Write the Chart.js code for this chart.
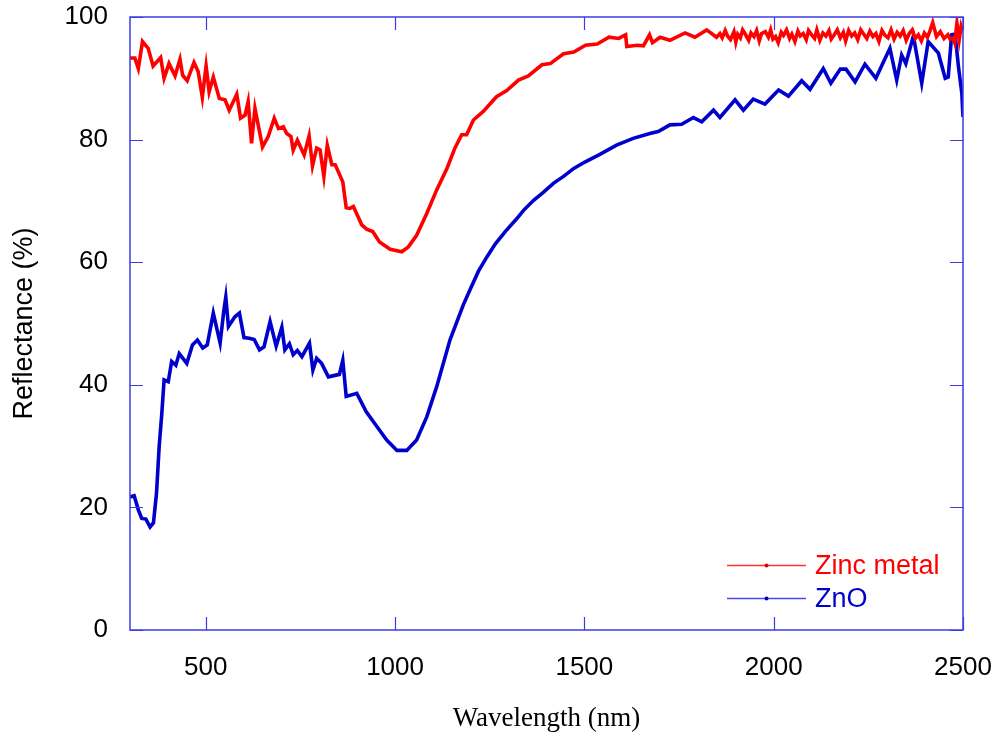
<!DOCTYPE html>
<html><head><meta charset="utf-8">
<script src="https://cdn.jsdelivr.net/npm/chart.js@4.4.1/dist/chart.umd.min.js"></script>
<style>html,body{margin:0;padding:0;background:#fff}#wrap{width:999px;height:735px}</style>
</head><body><div id="wrap"><canvas id="c" width="999" height="735"></canvas></div>
<script>
const xTicks = [500, 1000, 1500, 2000, 2500];
const yTicks = [0, 20, 40, 60, 80, 100];
const seriesNames = ['Zinc metal', 'ZnO'];

const zincWl = [300,313,322,333,348,361,381,390,403,419,432,439,451,469,480,491,501,509,520,536,551,562,582,592,604,612,621,630,650,665,681,692,705,714,725,731,742,760,773,782,793,802,812,821,833,842,862,871,881,890,912,925,941,959,987,1018,1035,1057,1084,1110,1137,1158,1176,1189,1207,1233,1268,1295,1326,1352,1388,1410,1445,1472,1503,1534,1565,1591,1609,1612,1640,1656,1672,1680,1700,1726,1766,1792,1823,1849,1858,1864,1872,1878,1886,1895,1900,1905,1912,1918,1926,1934,1940,1948,1955,1962,1968,1978,1986,1992,1998,2005,2012,2020,2026,2034,2042,2048,2056,2064,2070,2078,2086,2092,2100,2108,2114,2122,2130,2138,2146,2152,2160,2168,2176,2184,2190,2198,2206,2214,2222,2230,2238,2246,2254,2262,2270,2278,2286,2294,2302,2310,2318,2326,2334,2342,2350,2358,2366,2374,2382,2390,2398,2406,2412,2420,2430,2440,2450,2460,2466,2473,2478,2484,2490,2495,2499];
const zincR = [93.3,93.3,91.6,96.0,94.9,92.0,93.4,90.0,92.4,90.4,93.1,90.5,89.6,92.6,91.1,86.9,92.0,87.8,90.2,86.7,86.5,84.8,87.4,83.5,84.0,86.2,79.4,85.1,78.8,80.5,83.5,81.8,82.1,81.0,80.5,78.3,79.9,77.5,80.6,75.7,78.6,78.3,74.0,79.1,75.9,75.9,73.1,68.9,68.8,69.1,66.1,65.4,65.0,63.3,62.1,61.7,62.5,64.4,68.0,71.8,75.3,78.6,80.8,80.8,83.2,84.6,87.0,88.0,89.7,90.4,92.2,92.4,94.0,94.3,95.4,95.6,96.7,96.5,97.1,95.2,95.4,95.3,97.1,95.8,96.7,96.2,97.4,96.7,97.9,96.7,97.3,96.6,97.8,96.9,96.3,97.6,95.9,97.2,96.6,97.9,97.1,96.2,97.4,96.8,97.8,96.1,97.3,97.6,96.7,97.9,96.4,96.8,95.8,97.5,97.0,97.9,96.5,97.2,96.0,97.7,96.9,97.3,96.3,97.8,97.1,96.5,97.9,96.2,97.4,96.9,97.8,96.4,97.1,97.9,96.6,97.5,96.1,97.8,96.9,97.4,96.3,97.9,97.2,96.5,97.7,96.8,97.3,96.0,97.8,97.0,96.6,97.9,96.4,97.5,96.9,97.8,96.2,97.3,97.9,96.5,97.1,96.1,97.4,96.7,97.6,99.1,96.8,97.6,96.5,97.1,96.4,96.6,95.8,99.0,96.3,98.4,97.5,96.5,94.5];

const znoWl = [300,311,322,331,342,353,362,370,377,384,390,401,410,421,430,450,465,478,492,504,520,538,548,553,560,577,589,601,615,628,642,654,670,686,701,709,721,731,742,754,774,783,793,806,824,853,862,871,899,924,952,978,1005,1031,1057,1084,1110,1145,1180,1198,1220,1243,1265,1291,1320,1340,1366,1390,1419,1445,1472,1500,1541,1585,1629,1673,1695,1726,1757,1788,1810,1841,1858,1898,1920,1946,1977,2013,2039,2074,2096,2131,2151,2176,2191,2215,2241,2270,2288,2307,2325,2338,2349,2369,2391,2408,2435,2453,2461,2470,2479,2488,2497,2500];
const znoR = [21.7,21.9,19.6,18.2,18.1,16.8,17.5,22.3,29.9,35.3,40.8,40.5,43.8,43.2,45.1,43.5,46.5,47.3,46.0,46.5,51.7,46.8,52.2,54.3,49.5,51.1,51.7,47.7,47.6,47.4,45.7,46.2,50.3,46.3,49.4,45.7,46.7,44.9,45.6,44.6,46.8,42.4,44.3,43.5,41.3,41.7,44.0,38.1,38.6,35.6,33.2,31.0,29.3,29.3,31.0,34.8,39.7,47.3,53.0,55.5,58.5,60.9,63.0,65.0,67.0,68.5,70.1,71.3,72.9,74.0,75.3,76.3,77.6,79.1,80.2,81.0,81.3,82.4,82.5,83.6,82.9,84.8,83.6,86.5,84.8,86.6,85.8,88.1,87.1,89.6,88.2,91.6,89.2,91.5,91.5,89.4,92.3,90.0,92.4,94.9,89.7,93.8,92.4,96.9,89.2,96.0,94.1,90.0,90.2,97.1,97.2,91.9,87.5,83.7];

const AXIS_BLUE = '#3c3ce6';
const SANS = "'Liberation Sans', Arial, sans-serif";
const SERIF = "'Liberation Serif', 'Times New Roman', serif";

function pts(xs, ys){ return xs.map((x,i)=>({x:x, y:ys[i]})); }
function noPad(s){ s.paddingTop = 0; s.paddingBottom = 0; s.paddingLeft = 0; s.paddingRight = 0; }

const framePlugin = {
  id: 'frame',
  afterDatasetsDraw(chart){
    const {ctx, chartArea:a, scales:{x, y}} = chart;
    ctx.save();
    ctx.strokeStyle = AXIS_BLUE;
    ctx.lineWidth = 1.5;
    ctx.strokeRect(a.left, a.top, a.right - a.left, a.bottom - a.top);
    const L = 13;
    ctx.beginPath();
    xTicks.forEach(v=>{
      const px = Math.round(x.getPixelForValue(v)) + 0.5;
      ctx.moveTo(px, a.bottom); ctx.lineTo(px, a.bottom - L);
      ctx.moveTo(px, a.top); ctx.lineTo(px, a.top + L);
    });
    yTicks.forEach(v=>{
      const py = Math.round(y.getPixelForValue(v)) + 0.5;
      ctx.moveTo(a.left, py); ctx.lineTo(a.left + L, py);
      ctx.moveTo(a.right, py); ctx.lineTo(a.right - L, py);
    });
    ctx.lineWidth = 1.2;
    ctx.stroke();
    ctx.restore();
  },
  afterDraw(chart){
    const {ctx} = chart;
    const items = [
      {name: seriesNames[0], line:'#ff3030', dot:'#e00000', text:'#ff0000', y:565},
      {name: seriesNames[1], line:'#4a4ae8', dot:'#0000b0', text:'#0000cc', y:598}
    ];
    ctx.save();
    items.forEach(it=>{
      ctx.strokeStyle = it.line; ctx.lineWidth = 1.3;
      ctx.beginPath(); ctx.moveTo(727, it.y + 0.5); ctx.lineTo(806, it.y + 0.5); ctx.stroke();
      ctx.fillStyle = it.dot; ctx.beginPath(); ctx.arc(766.5, it.y + 0.5, 2, 0, Math.PI*2); ctx.fill();
      ctx.fillStyle = it.text; ctx.font = "27px " + SANS; ctx.textBaseline = 'middle'; ctx.textAlign = 'left';
      ctx.fillText(it.name, 815, it.y + 2);
    });
    ctx.restore();
  }
};

new Chart(document.getElementById('c'), {
  type: 'line',
  data: {
    datasets: [
      {label: seriesNames[0], data: pts(zincWl, zincR), borderColor:'#ff0000', backgroundColor:'#ff0000', borderWidth:3.6, pointRadius:0, tension:0},
      {label: seriesNames[1], data: pts(znoWl, znoR), borderColor:'#0000cc', backgroundColor:'#0000cc', borderWidth:3.6, pointRadius:0, tension:0}
    ]
  },
  options: {
    responsive: false,
    animation: false,
    devicePixelRatio: 1,
    layout: {padding: {left:0, right:36, top:17, bottom:0}},
    plugins: {legend:{display:false}, tooltip:{enabled:false}},
    scales: {
      x: {
        type:'linear', min:300, max:2500,
        afterBuildTicks(s){ s.ticks = xTicks.map(v=>({value:v})); },
        afterFit(s){ s.height = 105; noPad(s); },
        grid:{display:false, drawTicks:false},
        border:{display:false},
        ticks:{font:{family:SANS, size:26}, color:'#000', padding:22, maxRotation:0, autoSkip:false, callback:v=>String(v)},
        title:{display:true, text:'Wavelength (nm)', font:{family:SERIF, size:27}, color:'#000', padding:{top:0,bottom:0}}
      },
      y: {
        type:'linear', min:0, max:100,
        afterBuildTicks(s){ s.ticks = yTicks.map(v=>({value:v})); },
        afterFit(s){ s.width = 130; noPad(s); },
        grid:{display:false, drawTicks:false},
        border:{display:false},
        ticks:{font:{family:SANS, size:26}, color:'#000', padding:22, autoSkip:false, callback:v=>String(v)},
        title:{display:true, text:'Reflectance (%)', font:{family:SANS, size:27}, color:'#000', padding:{top:8,bottom:0}}
      }
    }
  },
  plugins: [framePlugin]
});
</script></body></html>
